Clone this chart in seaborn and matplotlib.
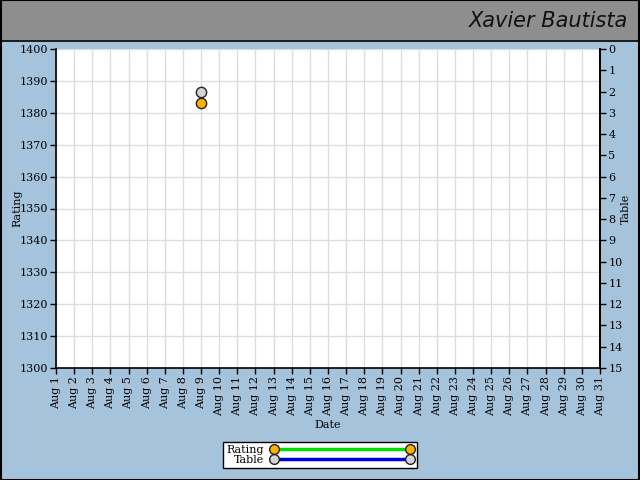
import matplotlib
matplotlib.use("Agg")
import matplotlib.pyplot as plt
import seaborn as sns
import pandas as pd
from matplotlib.patches import Rectangle
from matplotlib.lines import Line2D

days = list(range(1, 32))
day_labels = [f"Aug {d}" for d in days]
rating_days = [9]
rating_values = [1383]
table_days = [9]
table_values = [2]

sns.set_theme(style="white")
plt.rcParams['font.family'] = ['DejaVu Serif']
plt.rcParams.update({"text.color": "black", "axes.labelcolor": "black",
                     "xtick.color": "black", "ytick.color": "black"})

FS = 8.0
BG = "#a6c3dc"
fig = plt.figure(figsize=(6.4, 4.8), dpi=100, facecolor=BG)
# title band
fig.patches.append(Rectangle((0, 1-40/480), 1, 40/480, transform=fig.transFigure,
                             facecolor="#8e8e8e", edgecolor="none", zorder=0))
fig.lines.append(Line2D([0, 1], [1-40.5/480, 1-40.5/480], transform=fig.transFigure, color="black", lw=1.2))
# outer border
fig.patches.append(Rectangle((0.001, 0.001), 0.998, 0.998, transform=fig.transFigure,
                             facecolor="none", edgecolor="black", lw=1.5, zorder=5))
fig.text(628/640, 1-21/480, "Xavier Bautista", ha="right", va="center", fontsize=15,
         family="DejaVu Sans", style="italic", fontweight="light", color="#111111")

ax = fig.add_axes([56/640, 1-368/480, (600-56)/640, (368-49)/480])
ax.set_facecolor("white")
df_r = pd.DataFrame({"day": rating_days, "rating": rating_values})
df_t = pd.DataFrame({"day": table_days, "table": table_values})

ax.set_xlim(1, 31)
ax.set_ylim(1300, 1400)
ax.set_xticks(days)
ax.set_xticklabels(day_labels, rotation=90, fontsize=FS)
ax.set_yticks(range(1300, 1401, 10))
ax.tick_params(axis="y", labelsize=FS, direction="out", length=4, width=1, left=True, pad=2)
ax.tick_params(axis="x", direction="out", length=4, width=1, bottom=True, pad=2)
ax.grid(True, color="#dddddd", lw=1)
ax.set_axisbelow(True)
for s in ["left", "bottom", "right"]:
    ax.spines[s].set_color("black")
    ax.spines[s].set_linewidth(1.2)
ax.spines["top"].set_visible(False)

ax2 = ax.twinx()
ax2.set_ylim(15, 0)
ax2.set_yticks(range(0, 16))
ax2.tick_params(axis="y", labelsize=FS, direction="out", length=4, width=1, right=True, pad=2)
for s in ["top", "left", "bottom"]:
    ax2.spines[s].set_visible(False)
ax2.spines["right"].set_color("black")
ax2.spines["right"].set_linewidth(1.2)

sns.scatterplot(data=df_r, x="day", y="rating", ax=ax, color="#ffb000", edgecolor="#222222",
                s=55, linewidth=1, zorder=5, clip_on=False)
sns.scatterplot(data=df_t, x="day", y="table", ax=ax2, color="#d3d3d3", edgecolor="#222222",
                s=55, linewidth=1, zorder=5, clip_on=False)
ax.set_xlabel("Date", fontsize=FS)
ax.set_ylabel("Rating", fontsize=FS)
ax2.set_ylabel("Table", fontsize=FS)
ax.xaxis.set_label_coords(0.5, -(425-368)/319, transform=ax.transAxes)
ax.yaxis.set_label_coords((17-56)/544, 0.5, transform=ax.transAxes)
ax2.yaxis.set_label_coords((626-56)/544, 0.5, transform=ax.transAxes)
ax.xaxis.label.set_va("center")
ax.yaxis.label.set_va("center")
ax2.yaxis.label.set_va("center")

h1 = Line2D([0], [0], color="#00dd00", lw=2.5, marker="o", markersize=7,
            markerfacecolor="#ffb000", markeredgecolor="#222222")
h2 = Line2D([0], [0], color="#0000dd", lw=2.5, marker="o", markersize=7,
            markerfacecolor="#d3d3d3", markeredgecolor="#222222")
leg = fig.legend([h1, h2], ["Rating", "Table"], loc="center",
                 bbox_to_anchor=(320/640, 1-455/480), numpoints=2, markerfirst=False,
                 handlelength=12.8, fontsize=FS, frameon=True, fancybox=False,
                 borderpad=0.3, labelspacing=0.0, handletextpad=0.6, borderaxespad=0)
leg.get_frame().set_edgecolor("black")
leg.get_frame().set_linewidth(1)
leg.get_frame().set_facecolor("white")
leg.get_frame().set_alpha(1)

fig.savefig("out.png", dpi=100, facecolor=BG)
